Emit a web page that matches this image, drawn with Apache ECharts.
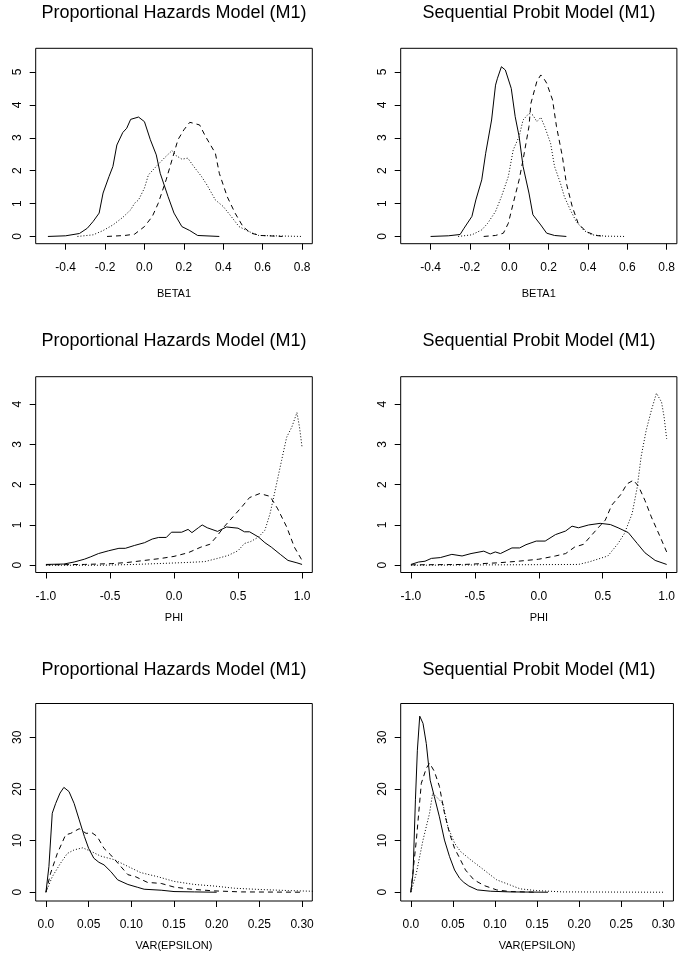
<!DOCTYPE html>
<html>
<head>
<meta charset="utf-8">
<script src="https://cdn.jsdelivr.net/npm/echarts@6/dist/echarts.min.js"></script>
<style>
html,body{margin:0;padding:0;background:#fff;}
#chart{width:678px;height:962px;}
</style>
</head>
<body>
<div id="chart"></div>
<script>
// posterior densities as [x, density]
// BETA1 - proportional hazards
const phBetaSolid = [[-0.49,0],[-0.4,0.02],[-0.33,0.09],[-0.29,0.25],[-0.26,0.46],[-0.23,0.71],[-0.21,1.32],[-0.18,1.82],[-0.16,2.13],[-0.14,2.78],[-0.11,3.16],[-0.09,3.29],[-0.07,3.56],[-0.03,3.63],[0.0,3.49],[0.03,2.94],[0.06,2.48],[0.08,1.92],[0.12,1.21],[0.15,0.71],[0.19,0.3],[0.23,0.18],[0.27,0.03],[0.38,0]];
const phBetaDashed = [[-0.19,0],[-0.1,0.03],[-0.05,0.07],[0,0.3],[0.04,0.61],[0.07,1.01],[0.11,1.72],[0.14,2.33],[0.17,2.94],[0.2,3.24],[0.23,3.47],[0.25,3.44],[0.28,3.39],[0.31,3.04],[0.36,2.53],[0.38,1.92],[0.42,1.21],[0.46,0.71],[0.5,0.3],[0.54,0.1],[0.59,0.03],[0.7,0]];
const phBetaDotted = [[-0.34,0],[-0.26,0.05],[-0.21,0.18],[-0.16,0.35],[-0.11,0.58],[-0.07,0.81],[-0.05,1.01],[-0.03,1.11],[0,1.47],[0.02,1.87],[0.06,2.13],[0.1,2.38],[0.14,2.61],[0.16,2.46],[0.19,2.35],[0.22,2.38],[0.25,2.13],[0.29,1.82],[0.32,1.54],[0.36,1.11],[0.4,0.91],[0.44,0.61],[0.48,0.3],[0.53,0.15],[0.58,0.03],[0.8,0]];
// BETA1 - sequential probit
const spBetaSolid = [[-0.4,0],[-0.31,0.02],[-0.25,0.06],[-0.23,0.25],[-0.19,0.61],[-0.17,1.11],[-0.14,1.72],[-0.12,2.53],[-0.09,3.54],[-0.07,4.6],[-0.06,4.81],[-0.04,5.16],[-0.02,5.06],[0.01,4.5],[0.03,3.64],[0.05,3.04],[0.07,2.13],[0.1,1.32],[0.12,0.66],[0.16,0.35],[0.19,0.1],[0.23,0.03],[0.29,0]];
const spBetaDashed = [[-0.13,0],[-0.07,0.03],[-0.03,0.1],[-0.005,0.4],[0.02,1.01],[0.05,1.72],[0.07,2.33],[0.1,3.34],[0.11,4.05],[0.14,4.71],[0.16,4.91],[0.18,4.76],[0.19,4.66],[0.22,4.15],[0.24,3.34],[0.27,2.43],[0.29,1.62],[0.32,0.91],[0.35,0.4],[0.39,0.15],[0.44,0.03],[0.49,0]];
const spBetaDotted = [[-0.26,0],[-0.19,0.05],[-0.14,0.2],[-0.11,0.4],[-0.07,0.76],[-0.04,1.21],[-0.005,1.82],[0.02,2.63],[0.05,3.04],[0.07,3.54],[0.1,3.74],[0.12,3.69],[0.14,3.49],[0.16,3.62],[0.18,3.34],[0.21,2.83],[0.23,2.13],[0.26,1.62],[0.28,1.21],[0.31,0.81],[0.34,0.46],[0.38,0.18],[0.42,0.05],[0.49,0.01],[0.59,0]];
// PHI - proportional hazards
const phPhiSolid = [[-1,0.02],[-0.86,0.03],[-0.78,0.08],[-0.7,0.15],[-0.65,0.21],[-0.59,0.29],[-0.51,0.36],[-0.43,0.42],[-0.38,0.42],[-0.31,0.49],[-0.23,0.56],[-0.17,0.65],[-0.12,0.69],[-0.06,0.69],[-0.02,0.82],[0.06,0.82],[0.11,0.89],[0.14,0.81],[0.19,0.93],[0.22,1.0],[0.26,0.93],[0.34,0.84],[0.41,0.95],[0.5,0.92],[0.55,0.83],[0.59,0.83],[0.66,0.7],[0.71,0.56],[0.76,0.45],[0.83,0.27],[0.89,0.12],[0.96,0.06],[1,0.02]];
const phPhiDashed = [[-1,0.01],[-0.7,0.02],[-0.49,0.04],[-0.36,0.07],[-0.23,0.12],[-0.1,0.17],[0,0.22],[0.11,0.31],[0.21,0.45],[0.28,0.52],[0.33,0.7],[0.39,0.95],[0.46,1.2],[0.53,1.45],[0.59,1.68],[0.67,1.78],[0.75,1.71],[0.81,1.4],[0.88,0.95],[0.94,0.45],[1,0.12]];
const phPhiDotted = [[-1,0],[-0.57,0],[-0.31,0.02],[-0.05,0.05],[0.11,0.07],[0.24,0.09],[0.34,0.17],[0.42,0.24],[0.5,0.36],[0.55,0.54],[0.6,0.59],[0.66,0.7],[0.71,0.87],[0.75,1.28],[0.79,1.86],[0.84,2.6],[0.88,3.18],[0.92,3.43],[0.96,3.79],[0.98,3.43],[1,2.93]];
// PHI - sequential probit
const spPhiSolid = [[-1,0.02],[-0.94,0.08],[-0.89,0.1],[-0.84,0.17],[-0.77,0.19],[-0.68,0.27],[-0.6,0.23],[-0.53,0.29],[-0.43,0.35],[-0.38,0.28],[-0.34,0.33],[-0.3,0.29],[-0.21,0.43],[-0.15,0.43],[-0.1,0.51],[-0.02,0.6],[0.05,0.6],[0.13,0.76],[0.21,0.85],[0.26,0.97],[0.31,0.93],[0.39,1.0],[0.48,1.04],[0.56,1.01],[0.62,0.93],[0.7,0.81],[0.77,0.54],[0.83,0.31],[0.91,0.12],[1,0.02]];
const spPhiDashed = [[-1,0.01],[-0.58,0.02],[-0.32,0.06],[-0.16,0.1],[0,0.15],[0.13,0.23],[0.21,0.29],[0.28,0.45],[0.35,0.52],[0.4,0.7],[0.47,0.95],[0.52,1.12],[0.57,1.49],[0.64,1.75],[0.69,2.02],[0.74,2.11],[0.78,1.96],[0.83,1.61],[0.88,1.2],[0.95,0.7],[1,0.33]];
const spPhiDotted = [[-1,0],[-0.32,0.01],[0.31,0.02],[0.39,0.08],[0.47,0.16],[0.54,0.23],[0.62,0.54],[0.67,0.79],[0.73,1.28],[0.77,1.94],[0.8,2.69],[0.84,3.35],[0.88,3.84],[0.92,4.27],[0.96,4.05],[0.98,3.68],[1,3.14]];
// VAR(EPSILON) - proportional hazards
const phVarSolid = [[0,0],[0.0035,5],[0.0074,15.3],[0.0114,17.2],[0.0165,19.2],[0.021,20.3],[0.027,19.5],[0.033,17.2],[0.039,14],[0.045,10.8],[0.05,8.5],[0.056,6.6],[0.062,5.8],[0.068,5.3],[0.076,4.0],[0.084,2.4],[0.096,1.5],[0.107,0.97],[0.115,0.58],[0.135,0.39],[0.15,0.13],[0.174,0.06],[0.2,0]];
const phVarDashed = [[0,0],[0.0055,3.7],[0.0133,7.5],[0.023,11.1],[0.029,11.4],[0.039,12.3],[0.047,11.4],[0.054,11.5],[0.06,10.8],[0.068,8.5],[0.076,7.2],[0.086,5.3],[0.096,3.4],[0.105,3.0],[0.119,1.9],[0.135,1.7],[0.15,1.0],[0.17,0.58],[0.197,0.26],[0.229,0.06],[0.3,0]];
const phVarDotted = [[0,0],[0.0074,3.0],[0.017,5.6],[0.025,7.5],[0.033,8.2],[0.043,8.6],[0.053,7.9],[0.064,7.0],[0.08,6.3],[0.096,5.0],[0.111,3.8],[0.131,3.0],[0.15,2.1],[0.174,1.5],[0.197,1.2],[0.221,0.77],[0.252,0.52],[0.284,0.32],[0.32,0.15]];
// VAR(EPSILON) - sequential probit
const spVarSolid = [[0,0],[0.0027,3.7],[0.0055,17.9],[0.0078,27.5],[0.0106,34.1],[0.0145,32.7],[0.0184,28.8],[0.023,21.7],[0.028,18.5],[0.034,14.6],[0.04,10.1],[0.046,6.9],[0.052,4.3],[0.058,2.7],[0.063,1.9],[0.069,1.2],[0.079,0.45],[0.095,0.19],[0.118,0.06],[0.163,0]];
const spVarDashed = [[0,0],[0.0066,10.1],[0.0125,21.1],[0.0184,24],[0.0223,25],[0.028,23.4],[0.034,20.5],[0.04,15.3],[0.046,11.4],[0.052,8.5],[0.058,6.6],[0.065,4.3],[0.075,2.4],[0.087,1.3],[0.102,0.45],[0.118,0.13],[0.149,0]];
const spVarDotted = [[0,0],[0.0066,3.7],[0.0145,10.1],[0.0223,15.3],[0.026,19.2],[0.032,18.2],[0.038,17.2],[0.044,12.7],[0.052,9.5],[0.059,7.9],[0.071,6.3],[0.087,4.3],[0.102,2.4],[0.118,1.4],[0.13,0.65],[0.149,0.32],[0.181,0.06],[0.3,0]];

// tick values and labels
const betaTicks = [-0.4,-0.2,0,0.2,0.4,0.6,0.8];
const betaLabels = ['-0.4','-0.2','0.0','0.2','0.4','0.6','0.8'];
const phiTicks = [-1,-0.5,0,0.5,1];
const phiLabels = ['-1.0','-0.5','0.0','0.5','1.0'];
const varTicks = [0,0.05,0.1,0.15,0.2,0.25,0.3];
const varLabels = ['0.0','0.05','0.10','0.15','0.20','0.25','0.30'];
const betaYTicks = [0,1,2,3,4,5];
const phiYTicks = [0,1,2,3,4];
const varYTicks = [0,10,20,30];

const titles = ['Proportional Hazards Model (M1)', 'Sequential Probit Model (M1)'];
const xNames = ['BETA1', 'PHI', 'VAR(EPSILON)'];

// layout (R's par(mfrow=c(3,2)) look)
const cols = [{left: 35.7, width: 276.6}, {left: 400.7, width: 276.6}];
const rows = [
  {top: 48.3, height: 195.4, xmin: -0.552, xmax: 0.852, ymin: -0.22, ymax: 5.72, nameGap: 45, titleY: 13,
   xt: betaTicks, xl: betaLabels, yt: betaYTicks, data: [[phBetaSolid, phBetaDashed, phBetaDotted], [spBetaSolid, spBetaDashed, spBetaDotted]]},
  {top: 376.7, height: 195.8, xmin: -1.08, xmax: 1.08, ymin: -0.18, ymax: 4.68, nameGap: 39.5, titleY: 341,
   xt: phiTicks, xl: phiLabels, yt: phiYTicks, data: [[phPhiSolid, phPhiDashed, phPhiDotted], [spPhiSolid, spPhiDashed, spPhiDotted]]},
  {top: 703.5, height: 197.5, xmin: -0.012, xmax: 0.312, ymin: -1.7, ymax: 36.55, nameGap: 39, titleY: 670.5,
   xt: varTicks, xl: varLabels, yt: varYTicks, data: [[phVarSolid, phVarDashed, phVarDotted], [spVarSolid, spVarDashed, spVarDotted]]}
];
const lineTypes = ['solid', [5, 4], [1, 2]];
const FONT = 'Liberation Sans, Arial, Helvetica, sans-serif';

let grid = [], xAxis = [], yAxis = [], series = [], graphic = [];
rows.forEach(function (r, ri) {
  cols.forEach(function (c, ci) {
    let idx = grid.length;
    grid.push({left: c.left, top: r.top, width: c.width, height: r.height,
      show: true, borderColor: '#000', borderWidth: 1, backgroundColor: 'transparent'});
    xAxis.push({
      type: 'value', gridIndex: idx, min: r.xmin, max: r.xmax, position: 'bottom',
      name: xNames[ri], nameLocation: 'middle', nameGap: r.nameGap,
      nameTextStyle: {color: '#000', fontSize: 11, fontFamily: FONT},
      axisLine: {show: false, onZero: false},
      axisTick: {show: true, inside: false, length: 6, customValues: r.xt, lineStyle: {color: '#000', width: 1}},
      axisLabel: {show: true, margin: 18, color: '#000', fontSize: 12, fontFamily: FONT, customValues: r.xt,
        formatter: function (v) {
          let k = r.xt.findIndex(function (t) { return Math.abs(t - v) < 1e-9; });
          return k >= 0 ? r.xl[k] : '';
        }},
      splitLine: {show: false}
    });
    yAxis.push({
      type: 'value', gridIndex: idx, min: r.ymin, max: r.ymax, position: 'left',
      axisLine: {show: false, onZero: false},
      axisTick: {show: true, inside: false, length: 6, customValues: r.yt, lineStyle: {color: '#000', width: 1}},
      axisLabel: {show: true, rotate: 90, margin: 12, color: '#000', fontSize: 12, fontFamily: FONT, customValues: r.yt,
        formatter: function (v) { return String(Math.round(v)); }},
      splitLine: {show: false}
    });
    r.data[ci].forEach(function (d, li) {
      series.push({
        type: 'line', xAxisIndex: idx, yAxisIndex: idx, data: d,
        showSymbol: false, symbol: 'none', smooth: false, clip: true,
        lineStyle: {color: '#000', width: 1, type: lineTypes[li]}
      });
    });
    graphic.push({
      type: 'text', x: c.left + c.width / 2, y: r.titleY,
      style: {text: titles[ci], fill: '#000', font: '18px ' + FONT, textAlign: 'center', textVerticalAlign: 'middle'}
    });
  });
});

const chart = echarts.init(document.getElementById('chart'), null, {renderer: 'canvas'});
chart.setOption({
  animation: false,
  backgroundColor: '#fff',
  grid: grid,
  xAxis: xAxis,
  yAxis: yAxis,
  series: series,
  graphic: graphic
});
window.addEventListener('resize', function () { chart.resize(); });
</script>
</body>
</html>
